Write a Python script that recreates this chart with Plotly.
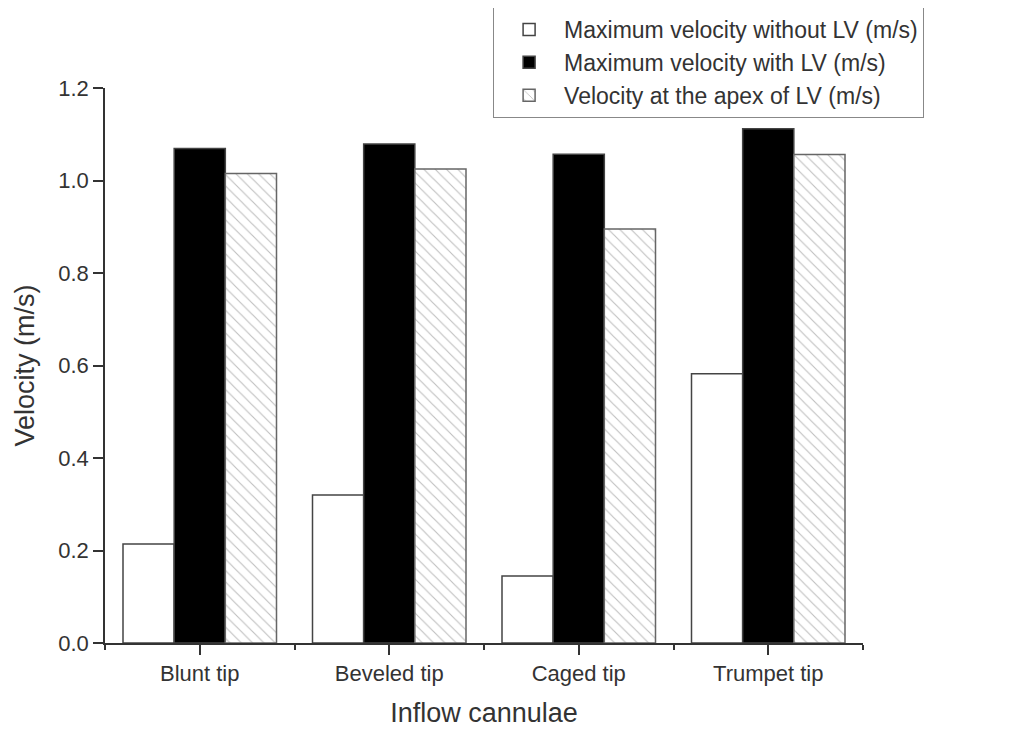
import plotly.graph_objects as go

categories = ["Blunt tip", "Beveled tip", "Caged tip", "Trumpet tip"]
without_lv = [0.214, 0.320, 0.145, 0.582]
with_lv = [1.069, 1.079, 1.057, 1.112]
apex_lv = [1.015, 1.025, 0.895, 1.056]
series_names = [
    "Maximum velocity without LV (m/s)",
    "Maximum velocity with LV (m/s)",
    "Velocity at the apex of LV (m/s)",
]
y_ticks = [0.0, 0.2, 0.4, 0.6, 0.8, 1.0, 1.2]

xpos = list(range(len(categories)))
FONT = "Liberation Sans, Arial, sans-serif"
TXT = "#333333"

fig = go.Figure()
fig.add_trace(go.Bar(
    x=xpos, y=without_lv, name=series_names[0],
    marker=dict(color="white", line=dict(color="#444444", width=1.5)),
))
fig.add_trace(go.Bar(
    x=xpos, y=with_lv, name=series_names[1],
    marker=dict(color="black", line=dict(color="#444444", width=1.5)),
))
fig.add_trace(go.Bar(
    x=xpos, y=apex_lv, name=series_names[2],
    marker=dict(color="white", line=dict(color="#666666", width=1.5),
                pattern=dict(shape="\\", fgcolor="#808080", bgcolor="white",
                             size=8, solidity=0.14)),
))

fig.update_layout(
    width=1002, height=726,
    paper_bgcolor="white", plot_bgcolor="white",
    margin=dict(l=97, r=147, t=80, b=91, autoexpand=False),
    barmode="group", bargap=0.19, bargroupgap=0,
    font=dict(family=FONT, color=TXT),
    legend=dict(
        x=0.512, y=1.146, xanchor="left", yanchor="top",
        bgcolor="white", bordercolor="#888888", borderwidth=1,
        font=dict(size=23, color=TXT, family=FONT),
        tracegroupgap=0, itemwidth=60, entrywidth=430,
    ),
    showlegend=True,
)
fig.update_xaxes(
    range=[-0.5, 3.5], tickmode="array", tickvals=xpos, ticktext=categories,
    showgrid=False, zeroline=False,
    showline=True, linecolor="#333333", linewidth=1.5,
    ticks="outside", ticklen=10, tickwidth=1.5, tickcolor="#333333",
    tickfont=dict(size=22, color=TXT),
    minor=dict(tick0=0.5, dtick=1, ticks="outside", ticklen=5, tickwidth=1.5,
               tickcolor="#333333", showgrid=False),
    title=dict(text="Inflow cannulae", font=dict(size=27, color=TXT), standoff=18),
)
fig.update_yaxes(
    range=[0, 1.2], tickmode="array", tickvals=y_ticks,
    ticktext=[f"{v:.1f}" for v in y_ticks],
    showgrid=False, zeroline=False,
    showline=True, linecolor="#333333", linewidth=1.5,
    ticks="outside", ticklen=10, tickwidth=1.5, tickcolor="#333333",
    tickfont=dict(size=22, color=TXT),
    title=dict(text="Velocity (m/s)", font=dict(size=27, color=TXT), standoff=16),
)

fig.write_html("out.html")
